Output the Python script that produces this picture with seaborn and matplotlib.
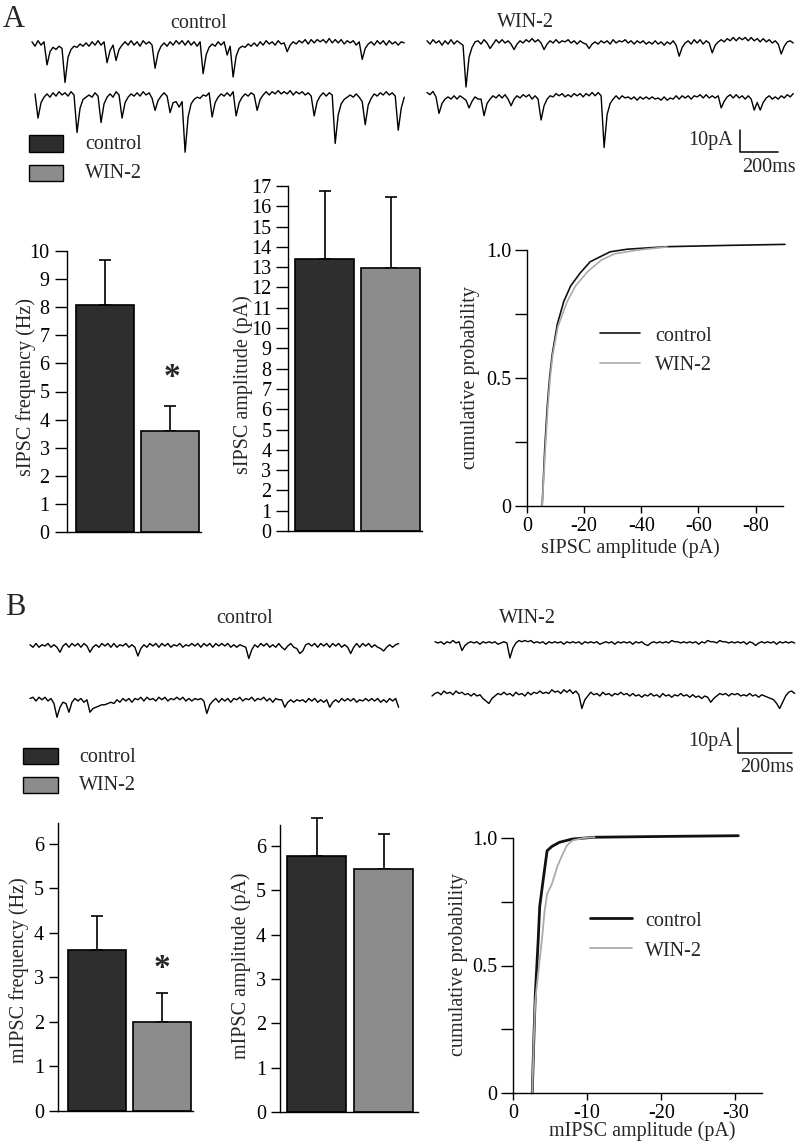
import numpy as np
import matplotlib
matplotlib.use("Agg")
import matplotlib.pyplot as plt
from matplotlib.lines import Line2D
from matplotlib.patches import Rectangle
import seaborn as sns

# ---------------------------------------------------------------- data
GROUPS = ["control", "WIN-2"]

SIPSC_FREQ = [8.07, 3.58]          # Hz
SIPSC_FREQ_SEM = [1.60, 0.89]
SIPSC_AMP = [13.42, 12.96]         # pA
SIPSC_AMP_SEM = [3.33, 3.48]
MIPSC_FREQ = [3.61, 2.00]          # Hz
MIPSC_FREQ_SEM = [0.76, 0.66]
MIPSC_AMP = [5.78, 5.48]           # pA
MIPSC_AMP_SEM = [0.85, 0.79]

# cumulative amplitude distributions: amplitude (pA) / probability
SIPSC_CUM_CTRL_AMP = [-5.3, -5.8, -6.2, -7.1, -7.9, -8.8, -10.6, -12.9, -15.3,
                      -18.6, -22.1, -29.1, -35, -49, -70, -90.3]
SIPSC_CUM_CTRL_P = [0, 0.12, 0.22, 0.39, 0.5, 0.59, 0.71, 0.8, 0.86,
                    0.91, 0.954, 0.993, 1.003, 1.013, 1.018, 1.022]
SIPSC_CUM_WIN_AMP = [-5.3, -5.9, -6.4, -7.3, -8.1, -9.0, -10.8, -14.1, -17.0,
                     -21.2, -25.9, -30.6, -38.8, -49]
SIPSC_CUM_WIN_P = [0, 0.12, 0.22, 0.39, 0.5, 0.59, 0.7, 0.8, 0.86,
                   0.915, 0.96, 0.985, 1.0, 1.012]
MIPSC_CUM_CTRL_AMP = [-2.6, -2.8, -3.0, -3.4, -3.6, -4.0, -4.6, -5.25, -6.25,
                      -8.0, -11.0, -20.0, -30.4]
MIPSC_CUM_CTRL_P = [0, 0.2, 0.38, 0.6, 0.73, 0.82, 0.95, 0.967, 0.983,
                    0.996, 1.003, 1.006, 1.009]
MIPSC_CUM_WIN_AMP = [-2.6, -2.8, -3.0, -3.4, -3.9, -4.25, -4.6, -5.25, -6.0,
                     -6.6, -7.25, -8.0, -9.5, -11.0]
MIPSC_CUM_WIN_P = [0, 0.2, 0.36, 0.47, 0.6, 0.71, 0.78, 0.82, 0.89,
                   0.93, 0.97, 0.99, 1.0, 1.003]

# example current traces, in 0.5 pA steps
SIPSC_DT = 15.8   # ms per sample
MIPSC_DT = 11.1
SIPSC_CTRL_1 = [
    2, -2, 3, -1, 2, -19, -7, -3, -5, -2, -4, -35, -12, -5, -2, -3, 0, -2, 1, -2, 2, -1, 3, -1, 2,
    -17, -6, -1, -15, -5, -1, 2, -1, 3, -1, 2, -2, 3, 0, 2, -1, -22, -8, -2, 1, -2, 2, -1, 3, 0,
    3, -1, 3, -1, 2, -2, 2, -27, -10, -3, 0, -2, 2, -1, 2, -10, -2, -30, -11, -4, -2, -3, 0, -2, 1,
    -2, 2, -1, 3, 0, 2, -1, 3, 0, 1, -7, -1, 2, 0, 3, 1, 4, 0, 4, 1, 4, 2, 4, 1, 5,
    1, 4, 1, 4, 0, 3, 1, 3, -1, 2, -14, -4, 0, 2, -1, 3, 0, 3, -1, 3, 0, 2, -1, 2, 1]
SIPSC_CTRL_2 = [
    1, -21, -7, -2, 1, -2, 2, -1, 3, 0, 2, -1, 3, 0, -34, -12, -4, -2, 0, -2, 2, -1, -25, -8, -2,
    1, -2, 3, 0, -21, -7, -2, 1, -1, 2, -1, 3, 0, 2, -3, -14, -5, -1, 2, -1, -16, -7, -6, -11, -6,
    -52, -20, -8, -4, -2, -3, 0, -1, 2, -20, -7, -2, 1, -1, 2, -1, 3, -19, -7, -2, 1, -1, 2, 0, -14,
    -4, 0, 3, 0, 3, 1, 4, 1, 3, 1, 4, 0, 3, 1, 3, 0, 2, -1, -19, -6, -1, 2, -1, 2, 0,
    -44, -18, -8, -4, -2, 0, -2, 1, -2, -6, -27, -9, -3, 1, -1, 2, 0, 3, 0, 2, -1, -32, -12, -2]
SIPSC_WIN_1 = [
    2, -1, 3, 0, 2, -2, 2, -1, 3, -1, 2, 0, -2, -40, -13, -4, 1, 2, -1, 3, 0, -5, -1, 3, 0,
    3, 0, 2, -1, -6, -1, 2, 0, 3, 1, 4, 1, 3, 0, -6, -1, 2, 0, 3, 0, 2, 1, 3, 0, 2,
    -1, 2, 0, -1, -5, -1, 1, -1, 2, 0, 2, -1, 3, 0, 2, 1, 3, 0, 2, -1, 2, 0, 2, -1, 1,
    -1, 2, -1, 1, -2, 1, -1, 2, -2, -12, -4, 0, 2, -1, 3, 0, 3, -1, 2, 0, -9, -2, 1, 3, 1,
    4, 2, 5, 2, 5, 3, 5, 2, 5, 2, 4, 1, 4, 1, 3, 0, 2, -1, -10, -3, 1, 2, 0]
SIPSC_WIN_2 = [
    5, 3, 6, 1, -14, -5, -1, 1, -1, 2, -1, 2, 0, -2, -9, -3, 1, -1, -1, -16, -5, -1, 2, 0, 3,
    0, 3, -1, -7, -1, 2, 0, 3, 1, 3, -1, 2, -1, -20, -7, -1, 2, 1, 4, 2, 4, 1, 3, 1, 4,
    2, 4, 1, 4, 2, 5, 2, 5, 2, -45, -15, -5, -1, 2, -1, 2, 0, 1, -1, 1, -2, 1, -1, 1, -1,
    1, -1, 0, -2, 1, -2, 0, -1, 2, -1, 2, 0, 2, -1, 2, 1, 3, 0, 3, 0, 2, 0, 2, -9, -3,
    1, 3, 0, 3, 0, 2, -1, 2, -1, -11, -4, -11, -4, 0, 2, -1, 1, -1, 2, 0, 3, 1, 4]
MIPSC_CTRL_1 = [
    1, -1, 2, -1, 1, 0, 2, -1, 1, -1, -5, 0, 2, -1, 2, 0, 2, -1, 2, 0, -5, -1, 1, -1, 2,
    0, 2, -1, 2, -1, 1, 0, 2, -1, 1, -1, -8, -2, 1, -1, 2, 0, 2, -1, 2, 0, 2, -1, 1, 0,
    2, -1, 1, 0, 2, 0, 2, -1, 2, 0, 2, -1, 2, 0, 2, 0, 2, -1, 1, -1, 1, 0, -1, -10, -3,
    1, -1, 2, 0, 2, -1, 1, -1, 2, -1, -3, 0, 2, -1, -2, -6, -4, 1, 2, 0, 2, -1, 2, 0, 2,
    -1, 2, 0, 2, -1, 1, -1, -6, -1, 2, -1, 2, 0, 2, -1, 1, -1, -2, -4, -1, 1, -1, 1, 2]
MIPSC_CTRL_2 = [
    2, 3, 0, 3, 1, 3, 0, 2, -2, -13, -5, -1, -2, -9, -1, 2, 0, 2, -1, 1, -9, -6, -5, -4, -3,
    -3, -2, -1, -2, 1, -1, 2, 0, 2, -1, 2, 1, 3, 0, 3, 1, 2, 0, 3, 1, 3, 0, 2, 1, 3,
    1, 3, 0, 2, 0, 2, 1, 2, 0, -10, -3, 0, 2, -1, 2, 0, 2, -1, 2, 1, 3, 0, 2, 1, 3,
    0, 2, 1, 3, 0, 2, -1, 2, 1, 1, -5, -1, 1, -1, 1, 0, 1, -1, 2, 0, 2, -1, 1, -1, 1,
    -5, -1, 1, -1, 2, 0, 2, 0, 2, -1, 1, 0, 2, 0, 2, 0, 2, -1, 1, -1, 2, 0, 2, -5]
MIPSC_WIN_1 = [
    1, 0, 1, -1, 1, 0, 2, 0, 1, -6, -2, 0, 1, 0, 1, -1, 1, 0, 1, 0, 1, -1, 0, 1, 0,
    -12, -4, 0, 2, 1, 2, 1, 2, 0, 1, 0, 1, -1, 1, 0, 1, 0, 1, -1, 1, 0, 1, 0, 1, -1,
    1, 0, 1, 0, 1, -1, 0, 1, 0, 1, -1, 1, 0, 1, 0, 1, -1, 1, 0, 1, -1, -2, 0, 1, 0,
    1, 0, 1, 0, 2, 1, 1, 0, 1, 0, 1, 0, 1, -1, 1, 0, 2, 1, 1, 0, 2, 1, 1, 0, 1,
    0, 1, 0, 1, -1, 1, 0, -2, 0, 1, 0, 1, 0, 1, -1, 1, 0, 1, 0, 1, 0]
MIPSC_WIN_2 = [
    0, 2, 3, 1, 4, 2, 3, 1, 4, 2, 3, 1, 2, 0, 2, 0, 1, -2, -4, -6, -2, 0, 2, 1, 3,
    1, 2, 0, 3, 1, 2, 0, 3, 1, 3, 2, 4, 2, 3, 2, 5, 3, 4, 2, 5, 3, 5, 2, 4, 1,
    -10, -3, 0, 3, 1, 2, 0, 3, 1, 2, 0, 2, 1, 3, 1, 2, 0, 2, 0, 1, -1, 1, 0, 2, 0,
    1, -1, 2, 0, 1, -1, 1, 0, 2, 0, 1, -1, 1, -1, 0, -2, 0, -1, -5, -2, 0, 2, 1, 2, 0,
    2, 1, 2, 0, 1, 0, 2, 0, 1, -1, 1, 0, -1, -2, -3, -6, -10, -5, 0, 3, 4, 2]

# ---------------------------------------------------------------- style
sns.set_theme(style="ticks")
plt.rcParams["font.family"] = ["Liberation Serif", "DejaVu Serif"]
plt.rcParams.update({
    "axes.linewidth": 1.0,
    "xtick.major.width": 1.0,
    "ytick.major.width": 1.0,
    "xtick.color": "black",
    "ytick.color": "black",
    "axes.edgecolor": "black",
})
FS = 14.5
BAR_COLORS = ["#2e2e2e", "#8c8c8c"]
LINE_COLORS = ["#111111", "#ababab"]

W, H = 800, 1144
fig = plt.figure(figsize=(W / 100, H / 100), dpi=100)


def fx(x):
    return x / W


def fy(y):
    return 1 - y / H


def rect(l, t, r, b):
    return [l / W, 1 - b / H, (r - l) / W, (b - t) / H]


def text(x, y, s, size=FS, **kw):
    fig.text(fx(x), fy(y), s, fontsize=size, va="baseline", **kw)


def bar_panel(box, vals, sems, ymax, yticks, ylabel, lab_xy, xlim, tick_len, star=None):
    ax = fig.add_axes(rect(*box))
    sns.barplot(x=GROUPS, y=vals, hue=GROUPS, palette=BAR_COLORS, width=0.885,
                edgecolor="black", linewidth=1.2, legend=False, ax=ax, zorder=2)
    eb = ax.errorbar([0, 1], vals, yerr=[[0, 0], sems], fmt="none", ecolor="black",
                     elinewidth=1.2, capsize=4.5, capthick=1.2, zorder=1)
    for art in list(eb.lines[1]) + list(eb.lines[2]):
        art.set_clip_on(False)
    ax.set_xlim(*xlim)
    ax.set_ylim(0, ymax)
    ax.set_yticks(yticks)
    ax.set_xticks([])
    ax.set_xlabel("")
    ax.tick_params(axis="y", length=tick_len, pad=3.5, labelsize=FS)
    ax.set_ylabel(ylabel, fontsize=FS, va="center")
    ax.yaxis.set_label_coords(fx(lab_xy[0]), fy(lab_xy[1]), transform=fig.transFigure)
    sns.despine(ax=ax)
    if star is not None:
        ax.text(star[0], star[1], "*", ha="center", va="center",
                fontsize=24, fontweight="bold")
    return ax


def cum_panel(box, curves, xmax, xticks, xlabel, xlab_xy, ylab_xy, lw):
    ax = fig.add_axes(rect(*box))
    for (amp, p), c, w in zip(curves, LINE_COLORS, lw):
        sns.lineplot(x=amp, y=p, sort=False, estimator=None, color=c,
                     linewidth=w, clip_on=False, ax=ax)
    ax.set_xlim(0, -xmax)
    ax.set_ylim(0, 1)
    ax.set_xticks(xticks, labels=["0" if v == 0 else f"-{abs(v)}" for v in xticks])
    ax.set_yticks([0, 0.25, 0.5, 0.75, 1.0], labels=["0", "", "0.5", "", "1.0"])
    ax.tick_params(axis="y", length=9, pad=2, labelsize=FS)
    ax.tick_params(axis="x", length=5, pad=3, labelsize=FS)
    ax.set_ylabel("cumulative probability", fontsize=FS, va="center")
    ax.yaxis.set_label_coords(fx(ylab_xy[0]), fy(ylab_xy[1]), transform=fig.transFigure)
    ax.set_xlabel(xlabel, fontsize=FS, va="baseline")
    ax.xaxis.set_label_coords(fx(xlab_xy[0]), fy(xlab_xy[1]), transform=fig.transFigure)
    sns.despine(ax=ax)
    return ax


def cum_legend(x0, x1, xt, ys, widths):
    for y, c, w, lab in zip(ys, LINE_COLORS, widths, GROUPS):
        fig.add_artist(Line2D([fx(x0), fx(x1)], [fy(y), fy(y)], color=c, lw=w,
                              transform=fig.transFigure))
        text(xt, y + 7.5, lab)


def trace_panel(top, bottom, px_ms, px_pa, traces, dt, bar_x, bar_y, lab):
    ax = fig.add_axes(rect(0, top, W, bottom))
    ax.set_xlim(0, W / px_ms)
    ax.set_ylim(-(bottom - top) / px_pa, 0)
    ax.axis("off")
    for vals, x0, base in traces:
        t = x0 / px_ms + np.arange(len(vals)) * dt
        cur = np.asarray(vals) * 0.5 - (base - top) / px_pa
        ax.plot(t, cur, color="black", lw=1.0)
    bx = bar_x / px_ms
    by = -(bar_y - top) / px_pa
    ax.plot([bx, bx, bx + 200], [by + 10, by, by], color="black", lw=1.1)
    text(733, lab[0], "10pA", ha="right")
    text(bar_x + 2, lab[1], "200ms", ha="left")


def legend_boxes(x0, x1, rows, xt):
    for (t, b), c, lab in zip(rows, BAR_COLORS, GROUPS):
        fig.add_artist(Rectangle((fx(x0), fy(b)), (x1 - x0) / W, (b - t) / H,
                                 facecolor=c, edgecolor="black", lw=1.0,
                                 transform=fig.transFigure))
        text(xt, b - 2.5, lab)


# ---------------------------------------------------------------- panel A
text(3, 27, "A", size=22)
text(199, 28, "control", ha="center")
text(525, 27, "WIN-2", ha="center")
trace_panel(25, 175, 0.19, 2.2,
            [(SIPSC_CTRL_1, 32, 44), (SIPSC_CTRL_2, 35, 95),
             (SIPSC_WIN_1, 427, 43), (SIPSC_WIN_2, 427, 98)],
            SIPSC_DT, 740, 152, (145, 172.5))
legend_boxes(29, 63, [(135, 152), (165, 181)], 85)

bar_panel((67, 251, 201, 532), SIPSC_FREQ, SIPSC_FREQ_SEM, 10, range(0, 11),
          "sIPSC frequency (Hz)", (26, 387), (-0.58, 1.47), 9, star=(1.02, 5.5))
bar_panel((288, 186, 422, 531), SIPSC_AMP, SIPSC_AMP_SEM, 17, range(0, 18),
          "sIPSC amplitude (pA)", (243, 385), (-0.553, 1.477), 8.5)
cum_panel((527, 250, 783, 506),
          [(SIPSC_CUM_CTRL_AMP, SIPSC_CUM_CTRL_P), (SIPSC_CUM_WIN_AMP, SIPSC_CUM_WIN_P)],
          89.6, [0, -20, -40, -60, -80], "sIPSC amplitude (pA)", (630, 553), (470, 378),
          (1.2, 1.2))
cum_legend(600, 640, 655, [333, 363], (1.2, 1.2))

# ---------------------------------------------------------------- panel B
text(5, 615, "B", size=22)
text(245, 623, "control", ha="center")
text(527, 623, "WIN-2", ha="center")
trace_panel(600, 780, 0.27, 2.5,
            [(MIPSC_CTRL_1, 30, 646), (MIPSC_CTRL_2, 30, 701),
             (MIPSC_WIN_1, 435, 643), (MIPSC_WIN_2, 432, 696)],
            MIPSC_DT, 738, 753, (746, 771.5))
legend_boxes(23, 58, [(748, 764), (777, 793)], 79)

bar_panel((58, 823, 193, 1111), MIPSC_FREQ, MIPSC_FREQ_SEM, 6.47, range(0, 7),
          "mIPSC frequency (Hz)", (19, 970), (-0.588, 1.47), 6.5, star=(1.0, 3.2))
bar_panel((280, 825, 418, 1112), MIPSC_AMP, MIPSC_AMP_SEM, 6.47, range(0, 7),
          "mIPSC amplitude (pA)", (241, 966), (-0.545, 1.515), 6.5)
cum_panel((513, 838, 762, 1093),
          [(MIPSC_CUM_CTRL_AMP, MIPSC_CUM_CTRL_P), (MIPSC_CUM_WIN_AMP, MIPSC_CUM_WIN_P)],
          33.6, [0, -10, -20, -30], "mIPSC amplitude (pA)", (642, 1136), (458, 965),
          (2.0, 1.3))
cum_legend(590, 632, 645, [918, 948], (2.0, 1.3))

fig.savefig("out.png", dpi=100)
